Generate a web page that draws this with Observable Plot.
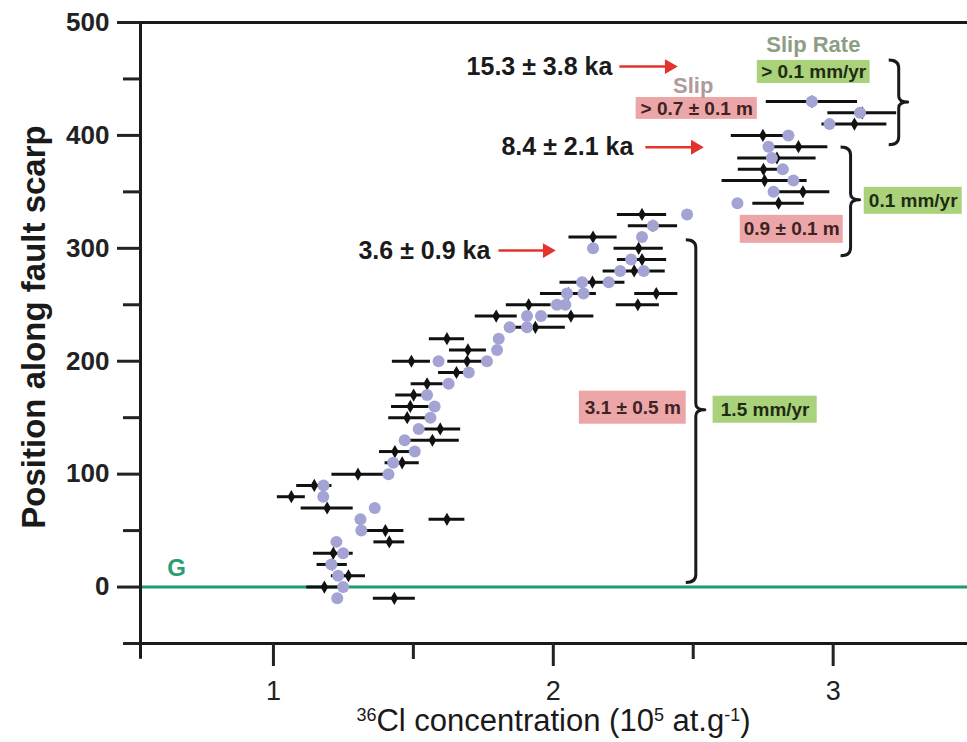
<!DOCTYPE html>
<html><head><meta charset="utf-8">
<script src="https://cdn.jsdelivr.net/npm/d3@7"></script>
<script src="https://cdn.jsdelivr.net/npm/@observablehq/plot@0.6"></script>
<style>html,body{margin:0;padding:0;background:#fff;}</style>
</head><body><div id="chart"></div>
<script>
// ---- measured samples (black diamonds with error bars) ----
const measPos = [-10,0,10,20,30,40,50,60,70,80,90,100,110,120,130,140,150,160,170,180,190,200,200,210,220,230,240,240,250,250,260,260,270,280,290,300,310,320,330,340,350,360,370,380,390,400,410,420,430];
const measConc = [1.432,1.182,1.268,1.210,1.214,1.414,1.400,1.620,1.192,1.064,1.146,1.302,1.460,1.434,1.568,1.596,1.478,1.489,1.501,1.549,1.654,1.493,1.692,1.695,1.620,1.936,1.796,2.063,1.912,2.302,2.054,2.368,2.140,2.289,2.317,2.305,2.142,2.356,2.317,2.805,2.892,2.755,2.751,2.799,2.876,2.749,3.076,3.104,2.924];
const measErr = [0.075,0.063,0.061,0.054,0.071,0.055,0.066,0.064,0.093,0.050,0.063,0.093,0.061,0.055,0.096,0.073,0.066,0.067,0.064,0.057,0.064,0.068,0.069,0.066,0.063,0.107,0.075,0.082,0.080,0.077,0.100,0.077,0.116,0.111,0.088,0.088,0.086,0.088,0.088,0.092,0.096,0.152,0.090,0.140,0.105,0.113,0.116,0.123,0.163];

// ---- modelled concentrations (lavender circles) ----
const modelPos = [-10,0,10,20,30,40,50,60,70,80,90,100,110,120,130,140,150,160,170,180,190,200,200,210,220,230,230,240,240,250,250,260,260,270,270,280,280,290,300,310,320,330,340,350,360,370,380,390,400,410,420,430];
const modelConc = [1.228,1.249,1.231,1.207,1.249,1.225,1.314,1.311,1.362,1.178,1.179,1.411,1.428,1.505,1.469,1.519,1.561,1.576,1.549,1.626,1.698,1.590,1.763,1.799,1.805,1.844,1.906,1.906,1.956,2.013,2.043,2.049,2.108,2.103,2.198,2.239,2.323,2.278,2.142,2.317,2.356,2.478,2.658,2.787,2.858,2.820,2.781,2.769,2.840,2.987,3.096,2.924];

// ---- axis ticks ----
const yMajor = [0,100,200,300,400,500];
const yMinor = [-50,50,150,250,350,450];
const xMajor = [1,2,3];
const xMinor = [1.5,2.5];

// ---- annotations ----
const ageText = ["15.3 \u00b1 3.8 ka","8.4 \u00b1 2.1 ka","3.6 \u00b1 0.9 ka"];
const ageX = [2.211,2.286,1.775];
const ageY = [461,389.5,298];
const arrowX1 = [2.236,2.329,1.804];
const arrowX2 = [2.425,2.518,1.989];

const boxText = ["> 0.1 mm/yr","> 0.7 \u00b1 0.1 m","0.9 \u00b1 0.1 m","0.1 mm/yr","3.1 \u00b1 0.5 m","1.5 mm/yr"];
const boxKind = ["rate","slip","slip","rate","slip","rate"];
const boxX1 = [2.729,2.296,2.668,3.111,2.093,2.571];
const boxX2 = [3.132,2.729,3.036,3.461,2.475,2.943];
const boxY1 = [446.0,414.2,304.4,330.1,144.2,145.1];
const boxY2 = [466.4,433.6,329.2,354.0,173.5,169.0];

const headText = ["Slip Rate","Slip"];
const headX = [2.929,2.5];
const headY = [480.5,444.2];

const braceX = [3.236,3.064,2.511];
const braceTop = [466.4,389.4,307.1];
const braceBottom = [391.2,292.9,3.5];
const braceTip = [429.2,342.5,156.6];

const font = "'Liberation Sans', Arial, Helvetica, sans-serif";
const ink = "#1a1a1a";

const meas = measPos.map((p,i)=>({pos:p, conc:measConc[i], err:measErr[i]}));
const model = modelPos.map((p,i)=>({pos:p, conc:modelConc[i]}));
const ages = ageText.map((t,i)=>({t, x:ageX[i], y:ageY[i], x1:arrowX1[i], x2:arrowX2[i]}));
const boxes = boxText.map((t,i)=>({t, kind:boxKind[i], x1:boxX1[i], x2:boxX2[i], y1:boxY1[i], y2:boxY2[i]}));
const heads = headText.map((t,i)=>({t, x:headX[i], y:headY[i]}));
const braces = braceX.map((x,i)=>({x, top:braceTop[i], bottom:braceBottom[i], tip:braceTip[i]}));

function braceMark(index, scales, values, dimensions, context) {
  const g = d3.create("svg:g");
  for (const b of braces) {
    const X = scales.x(b.x), T = scales.y(b.top), B = scales.y(b.bottom), M = scales.y(b.tip);
    const h = 10, w = 9, r = 8;
    const d = `M${X-h},${T} Q${X},${T} ${X},${T+r} L${X},${M-6} Q${X},${M} ${X+w},${M} Q${X},${M} ${X},${M+6} L${X},${B-r} Q${X},${B} ${X-h},${B}`;
    g.append("path").attr("d", d).attr("fill","none").attr("stroke", ink).attr("stroke-width", 3).attr("stroke-linejoin","round");
  }
  return g.node();
}

function xTitleMark(index, scales, values, dimensions, context) {
  const {width, marginLeft, marginRight} = dimensions;
  const cx = (marginLeft + width - marginRight) / 2;
  const t = d3.create("svg:text")
    .attr("x", cx).attr("y", 731).attr("text-anchor","middle")
    .attr("font-family", font).attr("font-size", 31).attr("fill", ink);
  const parts = [["36",true],["Cl concentration (10",false],["5",true],[" at.g",false],["-1",true],[")",false]];
  for (const [s, sup] of parts) {
    const ts = t.append("tspan").text(s);
    if (sup) ts.attr("baseline-shift","super").attr("font-size", 18);
  }
  return t.node();
}

const chart = Plot.plot({
  width: 967,
  height: 742,
  marginLeft: 140,
  marginRight: 0,
  marginTop: 22,
  marginBottom: 99,
  style: {fontFamily: font, background: "#fff", overflow: "visible"},
  x: {domain: [0.525, 3.48]},
  y: {domain: [-50, 500]},
  marks: [
    // boxes
    Plot.rect(boxes, {x1:"x1", x2:"x2", y1:"y1", y2:"y2", fill: d => d.kind === "slip" ? "#eca6a7" : "#a9d27b"}),
    Plot.text(boxes, {x: d => (d.x1+d.x2)/2, y: d => (d.y1+d.y2)/2, text:"t", fontSize: 19, fontWeight: "bold",
      fill: d => d.kind === "slip" ? "#3d2323" : "#1f2c14"}),
    Plot.text(heads, {x:"x", y:"y", text:"t", fontSize: 22, fontWeight:"bold", fill: (d,i) => i === 0 ? "#8d9e84" : "#b09b9c"}),
    // ground line
    Plot.ruleY([0], {stroke: "#1e9b6d", strokeWidth: 3}),
    Plot.text(["G"], {x: [0.654], y: [16.8], text: d => d, fontSize: 24, fontWeight: "bold", fill: "#2a9d72"}),
    // error bars, measurements, model
    Plot.ruleY(meas, {y:"pos", x1: d => d.conc - d.err, x2: d => d.conc + d.err, stroke: "#111", strokeWidth: 3}),
    Plot.dot(meas, {x:"conc", y:"pos", symbol:"diamond", r: 4, fill:"#111"}),
    Plot.dot(model, {x:"conc", y:"pos", r: 6, fill:"#a3a4d4"}),
    // ages and arrows
    Plot.text(ages, {x:"x", y:"y", text:"t", textAnchor:"end", fontSize: 25, fontWeight:"bold", fill: ink}),
    Plot.link(ages, {x1:"x1", x2:"x2", y1:"y", y2:"y", stroke:"#e2342c", strokeWidth: 2.5}),
    Plot.dot(ages, {x:"x2", y:"y", symbol:"triangle", rotate: 90, r: 5.5, fill:"#e2342c", dx: -3}),
    // braces
    braceMark,
    // frame
    Plot.ruleY([500], {stroke: ink, strokeWidth: 3}),
    Plot.ruleY([-50], {stroke: ink, strokeWidth: 3}),
    Plot.ruleX([0.525], {y1: -64, y2: 500, stroke: ink, strokeWidth: 3}),
    // axes
    Plot.axisY({ticks: yMajor, tickSize: 23, tickPadding: 8, fontSize: 26, fontWeight: "bold", strokeWidth: 3, color: "#222", label: null, tickFormat: d => String(d)}),
    Plot.axisY({ticks: yMinor, tickSize: 17, tickFormat: () => "", strokeWidth: 3, color: "#222", label: null}),
    Plot.axisX({ticks: xMajor, tickSize: 23, tickPadding: 14, fontSize: 27, strokeWidth: 3, color: "#222", label: null, tickFormat: d => String(d)}),
    Plot.axisX({ticks: xMinor, tickSize: 16, tickFormat: () => "", strokeWidth: 3, color: "#222", label: null}),
    Plot.text(["Position along fault scarp"], {frameAnchor: "left", textAnchor: "middle", text: d => d, dx: -106, dy: -6, rotate: -90, fontSize: 33, fontWeight: "bold", fill: ink}),
    xTitleMark
  ]
});
document.getElementById("chart").appendChild(chart);
</script>
</body></html>
